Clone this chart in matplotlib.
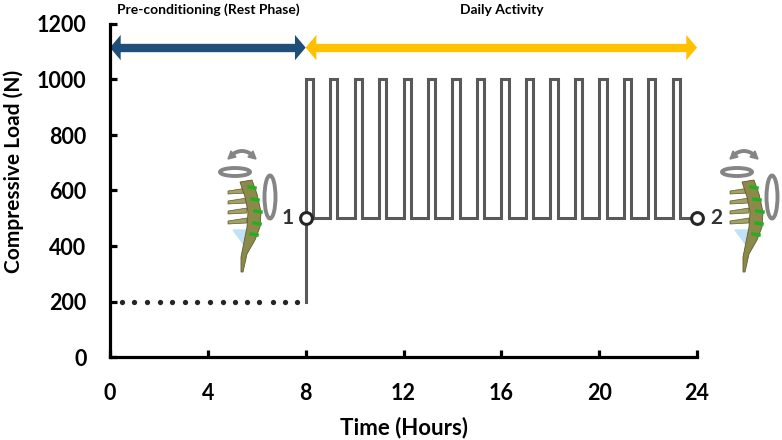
import matplotlib.pyplot as plt
import numpy as np
from matplotlib.patches import Ellipse, Polygon, FancyArrowPatch, Arc

plt.rcParams['font.family'] = ['Lato', 'DejaVu Sans']
plt.rcParams['font.weight'] = 'bold'

# data
x_ticks = [0, 4, 8, 12, 16, 20, 24]
y_ticks = [0, 200, 400, 600, 800, 1000, 1200]

# rest phase drawn as dots
rest_times = [0.5, 1.0, 1.5, 2.05, 2.55, 3.05, 3.55, 4.1, 4.6, 5.1, 5.6, 6.1,
              6.65, 7.15, 7.65]
rest_load = 200

pulse_starts = [8, 9, 10, 11, 12, 13, 14, 15, 16, 17, 18, 19, 20, 21, 22, 23]
pulse_width = 0.3
high_load = 1000
low_load = 500
day_end = 24

phase_y = 1115
phases = [("Pre-conditioning (Rest Phase)", 0, 8, "#1F4E79"),
          ("Daily Activity", 8, 24, "#FFC000")]

marks = [("1", 8, 500), ("2", 24, 500)]

# square wave path
wave_t = [pulse_starts[0]]
wave_y = [rest_load]
for s in pulse_starts:
    wave_t += [s, s + pulse_width, s + pulse_width]
    wave_y += [high_load, high_load, low_load]
    if s != pulse_starts[-1]:
        wave_t.append(s + 1)
        wave_y.append(low_load)
wave_t.append(day_end)
wave_y.append(low_load)

fig = plt.figure(figsize=(7.82, 4.4), dpi=100)
ax = fig.add_axes([110/782, 1-357/440, 587/782, 333/440])

ax.plot(rest_times, [rest_load] * len(rest_times), 'o', color='#262626',
        ms=3.8, mew=0)
ax.plot(wave_t, wave_y, color='#595959', lw=2.2, solid_joinstyle='miter')

for lab, t, y in marks:
    ax.plot([t], [y], 'o', ms=8.5, mfc='white', mec='#262626', mew=2.2,
            clip_on=False, zorder=5)
    dx = -0.75 if lab == "1" else 0.8
    ax.text(t + dx, y, lab, ha='center', va='center', fontsize=15,
            color='#333333', fontweight='bold', clip_on=False)

for name, a, b, col in phases:
    arr = FancyArrowPatch((a, phase_y), (b, phase_y),
                          arrowstyle='<|-|>,head_length=0.55,head_width=0.65',
                          mutation_scale=14, lw=0, color=col, clip_on=False,
                          shrinkA=0, shrinkB=0)
    ax.add_patch(arr)
    ax.plot([a + 0.3, b - 0.3], [phase_y, phase_y], color=col, lw=6,
            solid_capstyle='butt', clip_on=False)
    ax.text((a + b) / 2, 1250, name, ha='center', va='center', fontsize=10,
            fontweight='bold', clip_on=False)

ax.set_xlim(0, 24)
ax.set_ylim(0, 1200)
ax.set_xticks(x_ticks)
ax.set_yticks(y_ticks)
ax.spines['top'].set_visible(False)
ax.spines['right'].set_visible(False)
for sp in ['left', 'bottom']:
    ax.spines[sp].set_linewidth(2.3)
ax.tick_params(direction='in', length=5, width=2.3, labelsize=15.5)
ax.tick_params(axis='x', pad=19)
ax.tick_params(axis='y', pad=17)
for lbl in ax.get_xticklabels() + ax.get_yticklabels():
    lbl.set_fontweight('bold')
ax.set_xlabel('Time (Hours)', fontsize=16, fontweight='bold')
ax.set_ylabel('Compressive Load (N)', fontsize=15, fontweight='bold')
ax.xaxis.set_label_coords(0.5, -0.18)
ax.yaxis.set_label_coords(-0.146, 0.558)

# decoration layer for the spine icons (pixel coords)
ov = fig.add_axes([0, 0, 1, 1], zorder=10)
ov.set_xlim(0, 782)
ov.set_ylim(440, 0)
ov.axis('off')
ov.patch.set_alpha(0)


def draw_icon(cx, cy):
    grey = '#858585'
    # top arc arrow
    ov.add_patch(Arc((cx + 7, cy + 2), 36, 46, theta1=240, theta2=300,
                     color=grey, lw=2.8))
    ov.add_patch(Polygon([[cx - 7, cy - 13], [cx - 4, cy - 21], [cx + 1, cy - 15]],
                         closed=True, color=grey))
    ov.add_patch(Polygon([[cx + 21, cy - 13], [cx + 18, cy - 21], [cx + 13, cy - 15]],
                         closed=True, color=grey))
    # horizontal ring
    ov.add_patch(Ellipse((cx, cy), 30, 8, fill=False, ec=grey, lw=2.8))
    # vertical ring
    ov.add_patch(Ellipse((cx + 35, cy + 25), 11, 43, fill=False, ec=grey, lw=2.8))
    # light blue wedge
    ov.add_patch(Polygon([[cx - 2, cy + 58], [cx + 11, cy + 58], [cx + 10, cy + 74]],
                         closed=True, color='#BFE3F5'))
    # processes
    for yy in [18, 28, 38, 48]:
        ov.add_patch(Polygon([[cx + 12, cy + yy - 2], [cx - 7, cy + yy + 1],
                              [cx - 7, cy + yy + 4], [cx + 12, cy + yy + 3]],
                             closed=True, fc='#A3A064', ec='#5E5C2E', lw=0.5))
    # spine body
    left = [[cx + 5, cy + 10], [cx + 10, cy + 25], [cx + 13, cy + 40], [cx + 12, cy + 55],
            [cx + 9, cy + 70], [cx + 6, cy + 85], [cx + 6, cy + 100]]
    right = [[cx + 17, cy + 8], [cx + 22, cy + 22], [cx + 26, cy + 40], [cx + 25, cy + 55],
             [cx + 20, cy + 68], [cx + 12, cy + 82], [cx + 8, cy + 100]]
    ov.add_patch(Polygon(left + right[::-1], closed=True, fc='#8C8A4A', ec='#5E5C2E', lw=0.6))
    # discs
    for yy, xx in [(15, 20), (27, 23), (39, 26), (51, 25), (62, 22)]:
        ov.plot([cx + xx - 6, cx + xx], [cy + yy, cy + yy + 1], color='#22B022', lw=2.5)


draw_icon(235, 172)
draw_icon(737, 172)

fig.savefig('out.png', dpi=100)
